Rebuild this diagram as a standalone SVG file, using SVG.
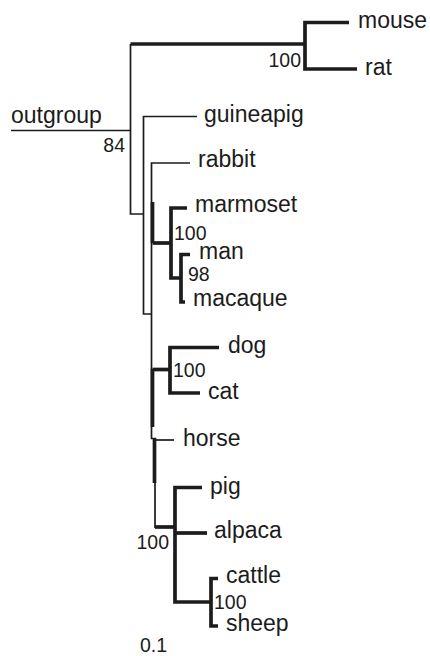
<svg xmlns="http://www.w3.org/2000/svg" width="430" height="656" viewBox="0 0 430 656">
  <style>
    .thin { fill: none; stroke: #1c1c1c; stroke-width: 1.7; stroke-linecap: butt; stroke-linejoin: miter; }
    .thick { fill: none; stroke: #1c1c1c; stroke-width: 3.7; stroke-linecap: butt; stroke-linejoin: miter; }
    .leaf { font-family: "Liberation Sans", Arial, sans-serif; font-size: 23px; fill: #1c1c1c; }
    .boot { font-family: "Liberation Sans", Arial, sans-serif; font-size: 19.5px; fill: #1c1c1c; }
  </style>
  <rect width="430" height="656" fill="#ffffff"/>

  <!-- branches -->
  <g id="connectors">
    <!-- outgroup and root -->
    <path class="thin" d="M11,130.5 H130.5"/>
    <path class="thin" d="M130.5,44 V214 H143.5"/>
    <!-- rodents (mouse, rat) -->
    <path class="thick" d="M130.5,44 H305"/>
    <path class="thick" d="M349,22.5 H305 V69 H357"/>
    <!-- guineapig node -->
    <path class="thin" d="M197,116.5 H143.5 V314 H151.5"/>
    <!-- rabbit node and backbone -->
    <path class="thin" d="M190,163 H151.5 V438.5 H155 V528"/>
    <path class="thick" d="M152.5,202 V243"/>
    <path class="thick" d="M152.5,369 V427"/>
    <path class="thick" d="M154.5,438 V483"/>
    <!-- primates -->
    <path class="thick" d="M152.5,243 H171"/>
    <path class="thick" d="M187,208 H171 V278 H181"/>
    <path class="thick" d="M190,254.5 H181 V302 H185"/>
    <!-- carnivores -->
    <path class="thick" d="M152.5,369.5 H170"/>
    <path class="thick" d="M219,347.5 H170 V393 H200"/>
    <!-- horse -->
    <path class="thin" d="M155,440 H174"/>
    <!-- cetartiodactyls -->
    <path class="thick" d="M155,527 H175"/>
    <path class="thick" d="M202,487.5 H175 V602 H211"/>
    <path class="thick" d="M175,533 H207"/>
    <path class="thick" d="M218,578.5 H211 V626 H218"/>
  </g>

  <!-- taxa -->
  <g id="outgroup"><text class="leaf" x="11" y="123">outgroup</text></g>
  <g id="mouse"><text class="leaf" x="358" y="28">mouse</text></g>
  <g id="rat"><text class="leaf" x="365" y="75">rat</text></g>
  <g id="guineapig"><text class="leaf" x="204" y="122">guineapig</text></g>
  <g id="rabbit"><text class="leaf" x="198" y="167">rabbit</text></g>
  <g id="marmoset"><text class="leaf" x="195" y="212">marmoset</text></g>
  <g id="man"><text class="leaf" x="199" y="259">man</text></g>
  <g id="macaque"><text class="leaf" x="193" y="306">macaque</text></g>
  <g id="dog"><text class="leaf" x="228" y="353">dog</text></g>
  <g id="cat"><text class="leaf" x="208" y="399">cat</text></g>
  <g id="horse"><text class="leaf" x="183" y="446">horse</text></g>
  <g id="pig"><text class="leaf" x="210" y="494">pig</text></g>
  <g id="alpaca"><text class="leaf" x="214" y="538">alpaca</text></g>
  <g id="cattle"><text class="leaf" x="226" y="583">cattle</text></g>
  <g id="sheep"><text class="leaf" x="226" y="631">sheep</text></g>

  <!-- bootstrap support values -->
  <g id="support">
    <text class="boot" x="125" y="152" text-anchor="end">84</text>
    <text class="boot" x="301" y="67" text-anchor="end">100</text>
    <text class="boot" x="174" y="240">100</text>
    <text class="boot" x="188" y="281">98</text>
    <text class="boot" x="173" y="377">100</text>
    <text class="boot" x="169" y="549" text-anchor="end">100</text>
    <text class="boot" x="214" y="609">100</text>
  </g>

  <!-- scale -->
  <g id="scale"><text class="boot" x="140" y="652">0.1</text></g>
</svg>
